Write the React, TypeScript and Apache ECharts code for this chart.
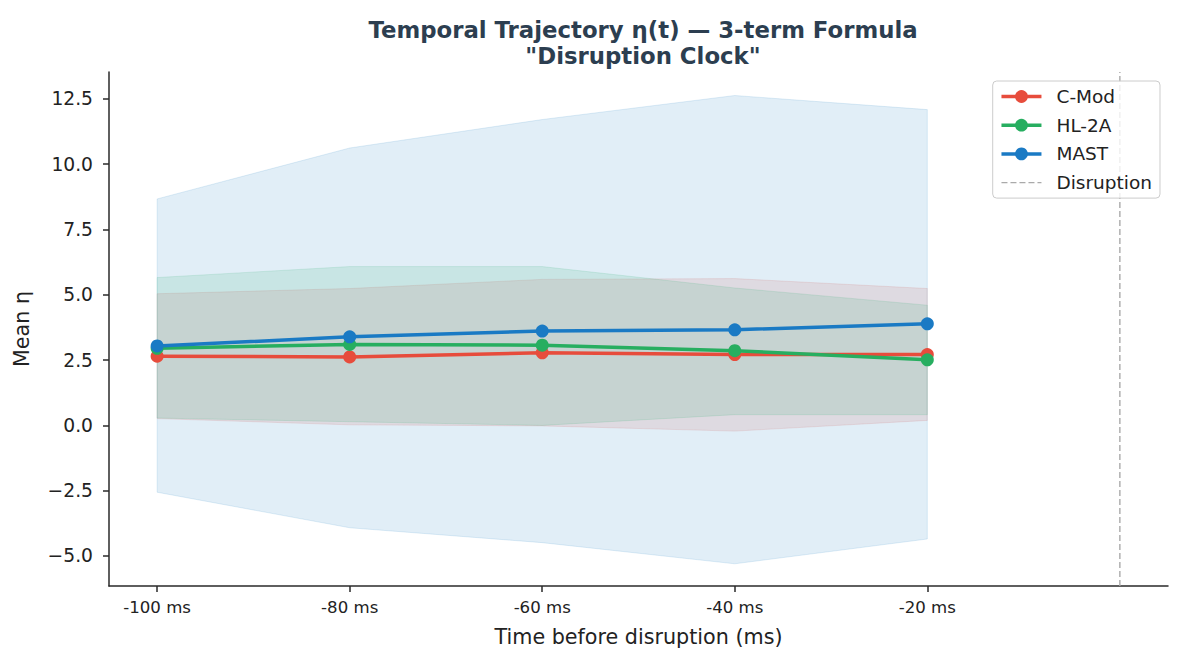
import React, { useEffect, useRef } from 'react';
import * as echarts from 'echarts';

// time before disruption (ms)
const times = [-100, -80, -60, -40, -20];
const xLabels = ['-100 ms', '-80 ms', '-60 ms', '-40 ms', '-20 ms'];
const yTicks = [-5, -2.5, 0, 2.5, 5, 7.5, 10, 12.5];

const cmodMean = [2.65, 2.62, 2.78, 2.71, 2.71];
const cmodLow = [0.26, 0.02, -0.02, -0.22, 0.19];
const cmodHigh = [5.04, 5.24, 5.59, 5.62, 5.24];

const hl2aMean = [2.95, 3.1, 3.07, 2.86, 2.51];
const hl2aLow = [0.28, 0.14, 0.0, 0.41, 0.41];
const hl2aHigh = [5.66, 6.08, 6.08, 5.26, 4.6];

const mastMean = [3.04, 3.39, 3.61, 3.66, 3.89];
const mastLow = [-2.56, -3.92, -4.49, -5.3, -4.35];
const mastHigh = [8.67, 10.62, 11.71, 12.63, 12.09];

const Y_MIN = -6.15;
const Y_MAX = 13.53;

const COLORS = { cmod: '#e74c3c', hl2a: '#27ae60', mast: '#1a7ac4' };
const FONT = 'DejaVu Sans';
const AXIS = '#2a2a2a';
const LINE_W = 3.5;

const band = (name: string, color: string, low: number[], high: number[]) => ({
  type: 'custom',
  name,
  silent: true,
  clip: true,
  z: 1,
  data: times.map((t, i) => [t, low[i], high[i]]),
  renderItem: (params: any, api: any) => {
    if (params.dataIndex !== 0) return { type: 'group', children: [] };
    const top = times.map((t, i) => api.coord([t, high[i]]));
    const bottom = times.map((t, i) => api.coord([t, low[i]])).reverse();
    return {
      type: 'polygon',
      shape: { points: top.concat(bottom) },
      style: { fill: color, stroke: color, lineWidth: 1, opacity: 0.13 },
    };
  },
});

const meanLine = (name: string, color: string, values: number[]) => ({
  type: 'line',
  name,
  z: 5,
  data: times.map((t, i) => [t, values[i]]),
  symbol: 'circle',
  symbolSize: 13,
  color,
  lineStyle: { width: LINE_W, color },
  itemStyle: { color },
});

const App: React.FC = () => {
  const chartRef = useRef<HTMLDivElement>(null);

  useEffect(() => {
    document.body.style.margin = '0';
    if (!chartRef.current) return;
    const chart = echarts.init(chartRef.current, undefined, { renderer: 'svg' });

    const option: any = {
      animation: false,
      backgroundColor: '#fff',
      textStyle: { fontFamily: FONT },
      title: {
        text: 'Temporal Trajectory η(t) — 3-term Formula\n"Disruption Clock"',
        left: 638,
        textAlign: 'center',
        top: 12,
        textStyle: { fontFamily: FONT, fontSize: 22.8, fontWeight: 'bold', color: '#2c3e50', lineHeight: 26 },
      },
      legend: {
        orient: 'vertical',
        right: 24,
        top: 81,
        padding: [6, 8, 6, 7],
        itemWidth: 40,
        itemHeight: 16,
        itemGap: 9.7,
        backgroundColor: 'rgba(255,255,255,0.8)',
        borderColor: '#cccccc',
        borderWidth: 1,
        borderRadius: 4,
        textStyle: { fontFamily: FONT, fontSize: 18.5, lineHeight: 19, color: '#222', padding: [0, 0, 0, 10] },
        data: [
          { name: 'C-Mod', lineStyle: { width: LINE_W } },
          { name: 'HL-2A', lineStyle: { width: LINE_W } },
          { name: 'MAST', lineStyle: { width: LINE_W } },
          { name: 'Disruption', lineStyle: { width: 1.4 }, itemStyle: { color: 'rgba(0,0,0,0)', borderWidth: 0 } },
        ],
      },
      grid: { left: 109, right: 16, top: 72, bottom: 76 },
      xAxis: {
        type: 'value',
        min: -105,
        max: 5,
        name: 'Time before disruption (ms)',
        nameLocation: 'middle',
        nameGap: 40,
        nameTextStyle: { fontFamily: FONT, fontSize: 20.7, color: '#222' },
        splitLine: { show: false },
        axisLine: { onZero: false, lineStyle: { color: AXIS, width: 1.5 } },
        axisTick: { show: true, length: 6, lineStyle: { color: AXIS, width: 1.5 }, customValues: times },
        axisLabel: {
          customValues: times,
          fontFamily: FONT,
          fontSize: 16.6,
          color: '#222',
          margin: 13,
          formatter: (v: number) => xLabels[times.indexOf(v)] ?? '',
        },
      },
      yAxis: {
        type: 'value',
        min: Y_MIN,
        max: Y_MAX,
        name: 'Mean η',
        nameLocation: 'middle',
        nameGap: 77,
        nameRotate: 90,
        nameTextStyle: { fontFamily: FONT, fontSize: 20.7, color: '#222' },
        splitLine: { show: false },
        axisLine: { show: true, onZero: false, lineStyle: { color: AXIS, width: 1.5 } },
        axisTick: { show: true, length: 6, lineStyle: { color: AXIS, width: 1.5 }, customValues: yTicks },
        axisLabel: {
          customValues: yTicks,
          fontFamily: FONT,
          fontSize: 18.7,
          color: '#222',
          margin: 16,
          formatter: (v: number) => v.toFixed(1).replace('-', '\u2212'),
        },
      },
      series: [
        band('C-Mod band', COLORS.cmod, cmodLow, cmodHigh),
        band('HL-2A band', COLORS.hl2a, hl2aLow, hl2aHigh),
        band('MAST band', COLORS.mast, mastLow, mastHigh),
        meanLine('C-Mod', COLORS.cmod, cmodMean),
        meanLine('HL-2A', COLORS.hl2a, hl2aMean),
        meanLine('MAST', COLORS.mast, mastMean),
        {
          type: 'line',
          name: 'Disruption',
          z: 3,
          data: [
            [0, Y_MIN],
            [0, Y_MAX],
          ],
          symbol: 'none',
          color: '#aaaaaa',
          lineStyle: { color: '#aaaaaa', width: 1.4, type: [6, 3] },
        },
      ],
    };

    chart.setOption(option);
    return () => {
      chart.dispose();
    };
  }, []);

  return <div ref={chartRef} style={{ width: 1184, height: 662 }}></div>;
};

export default App;
